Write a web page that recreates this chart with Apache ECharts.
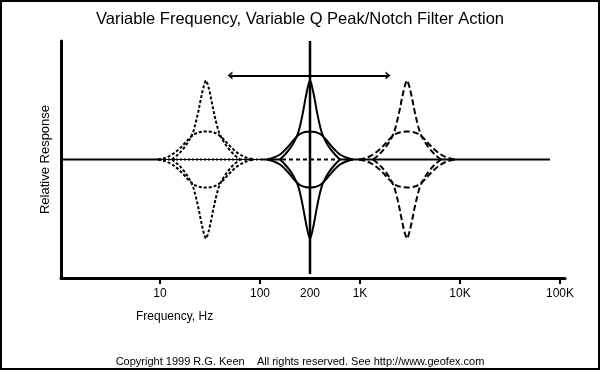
<!DOCTYPE html>
<html><head><meta charset="utf-8">
<script src="https://cdn.jsdelivr.net/npm/echarts@6/dist/echarts.min.js"></script>
<style>html,body{margin:0;padding:0;background:#fff}#c{width:600px;height:370px}</style>
</head><body><div id="c"></div>
<script>
const titleText = 'Variable Frequency, Variable Q Peak/Notch Filter Action';
const xAxisTitle = 'Frequency, Hz';
const yAxisTitle = 'Relative Response';
const footerText = 'Copyright 1999 R.G. Keen    All rights reserved. See http://www.geofex.com';

// x positions: decades above 1 Hz, as drawn on the original
const tickPositions = [1, 2, 3, 4, 5];
const labelPositions = [1, 2, 2.5, 3, 4, 5];
const tickLabels = ['10', '100', '200', '1K', '10K', '100K'];

// relative response of the curves (1 = full peak)
const narrowPeak  = [0, 0.063, 0.14, 0.22, 0.33, 0.45, 0.6, 0.74, 0.87, 0.95, 1.0, 0.95, 0.87, 0.74, 0.6, 0.45, 0.33, 0.22, 0.14, 0.063, 0];
const narrowNotch = [0, -0.063, -0.14, -0.22, -0.33, -0.45, -0.6, -0.74, -0.87, -0.95, -1.0, -0.95, -0.87, -0.74, -0.6, -0.45, -0.33, -0.22, -0.14, -0.063, 0];
const widePeak    = [0, 0.025, 0.063, 0.12, 0.19, 0.266, 0.323, 0.348, 0.354, 0.348, 0.323, 0.266, 0.19, 0.12, 0.063, 0.025, 0];
const wideNotch   = [0, -0.025, -0.063, -0.12, -0.19, -0.266, -0.323, -0.348, -0.354, -0.348, -0.323, -0.266, -0.19, -0.12, -0.063, -0.025, 0];

// x positions of the curve points for each filter setting
const leftNarrowX   = [1.12, 1.18, 1.236, 1.28, 1.326, 1.354, 1.382, 1.404, 1.426, 1.443, 1.46, 1.477, 1.494, 1.516, 1.538, 1.566, 1.594, 1.64, 1.684, 1.74, 1.80];
const leftWideX     = [0.98, 1.06, 1.12, 1.18, 1.236, 1.292, 1.348, 1.404, 1.46, 1.516, 1.572, 1.628, 1.684, 1.74, 1.80, 1.86, 1.94];
const centerNarrowX = [2.20, 2.25, 2.30, 2.34, 2.38, 2.405, 2.43, 2.45, 2.47, 2.485, 2.50, 2.515, 2.53, 2.55, 2.57, 2.595, 2.62, 2.66, 2.70, 2.75, 2.80];
const centerWideX   = [2.07, 2.14, 2.20, 2.25, 2.30, 2.35, 2.40, 2.45, 2.50, 2.55, 2.60, 2.65, 2.70, 2.75, 2.80, 2.86, 2.93];
const rightNarrowX  = [3.13, 3.19, 3.246, 3.29, 3.336, 3.364, 3.392, 3.414, 3.436, 3.453, 3.47, 3.487, 3.504, 3.526, 3.548, 3.576, 3.604, 3.65, 3.694, 3.75, 3.81];
const rightWideX    = [2.99, 3.07, 3.13, 3.19, 3.246, 3.302, 3.358, 3.414, 3.47, 3.526, 3.582, 3.638, 3.694, 3.75, 3.81, 3.87, 3.95];

// reference lines
const baselineBreaks = [0.01, 1.0, 2.02, 2.22, 2.78, 4.9];
const centerLineX = 2.5;
const centerLineY = [1.5, -1.45];
const arrowX = [1.70, 3.28];
const arrowY = 1.063;

function zip(xs, ys) { return xs.map((x, i) => [x, ys[i]]); }

const styles = {
  left:   { color: '#000', width: 2, type: [3, 2] },
  center: { color: '#000', width: 2, type: 'solid' },
  right:  { color: '#000', width: 2, type: [6, 3] }
};

function curve(xs, ys, style) {
  return { type: 'line', data: zip(xs, ys), smooth: 0.35, showSymbol: false, symbol: 'none',
           lineStyle: style, silent: true, z: 3 };
}
function seg(x0, x1, style, z) {
  return { type: 'line', data: [[x0, 0], [x1, 0]], showSymbol: false, symbol: 'none',
           lineStyle: style, silent: true, z: z || 2 };
}

const chev = 'path://M0,10 L5,0 L10,10 L7.5,10 L5,5 L2.5,10 Z';

const series = [
  seg(baselineBreaks[0], baselineBreaks[1], { color: '#000', width: 2 }),
  seg(baselineBreaks[1], baselineBreaks[2], { color: '#000', width: 1 }),
  seg(baselineBreaks[1], baselineBreaks[2], { color: '#000', width: 2, type: [2, 2] }),
  seg(baselineBreaks[2], baselineBreaks[3], { color: '#000', width: 2 }),
  seg(baselineBreaks[3], baselineBreaks[4], { color: '#000', width: 2, type: [4, 3] }),
  seg(baselineBreaks[4], baselineBreaks[5], { color: '#000', width: 2 }),
  curve(leftNarrowX, narrowPeak, styles.left),
  curve(leftNarrowX, narrowNotch, styles.left),
  curve(leftWideX, widePeak, styles.left),
  curve(leftWideX, wideNotch, styles.left),
  curve(centerNarrowX, narrowPeak, styles.center),
  curve(centerNarrowX, narrowNotch, styles.center),
  curve(centerWideX, widePeak, styles.center),
  curve(centerWideX, wideNotch, styles.center),
  curve(rightNarrowX, narrowPeak, styles.right),
  curve(rightNarrowX, narrowNotch, styles.right),
  curve(rightWideX, widePeak, styles.right),
  curve(rightWideX, wideNotch, styles.right),
  { type: 'line', data: [[centerLineX, centerLineY[0]], [centerLineX, centerLineY[1]]],
    showSymbol: false, symbol: 'none', lineStyle: { color: '#000', width: 2.5 }, silent: true, z: 4 },
  { type: 'line', data: [], silent: true,
    markLine: { silent: true, symbol: [chev, chev], symbolSize: [8, 5], label: { show: false },
      lineStyle: { color: '#000', width: 2, type: 'solid' }, emphasis: { disabled: true },
      data: [[{ coord: [arrowX[0], arrowY] }, { coord: [arrowX[1], arrowY] }]] } }
];

const font = 'Liberation Sans, Arial, sans-serif';
const chart = echarts.init(document.getElementById('c'), null, { renderer: 'canvas' });
chart.setOption({
  animation: false,
  backgroundColor: '#fff',
  textStyle: { fontFamily: font },
  title: [
    { text: titleText, left: 'center', top: 6, textStyle: { fontSize: 16.5, fontWeight: 'normal', color: '#000', fontFamily: font } },
    { text: xAxisTitle, left: 131, top: 306, textStyle: { fontSize: 12, fontWeight: 'normal', color: '#000', fontFamily: font } },
    { text: footerText, left: 'center', top: 351, textStyle: { fontSize: 11, fontWeight: 'normal', color: '#000', fontFamily: font, whiteSpace: 'pre' } }
  ],
  grid: { left: 61, top: 41, width: 504, height: 237, containLabel: false },
  xAxis: {
    type: 'value', min: 0.01, max: 5.05,
    axisLine: { show: true, onZero: false, lineStyle: { color: '#000', width: 3 } },
    axisTick: { show: true, customValues: tickPositions, length: 6, lineStyle: { color: '#000', width: 2 } },
    axisLabel: { show: true, customValues: labelPositions, margin: 10, color: '#000', fontSize: 12, fontFamily: font,
      formatter: v => { const i = labelPositions.findIndex(p => Math.abs(p - v) < 1e-6); return i >= 0 ? tickLabels[i] : ''; } },
    splitLine: { show: false }
  },
  yAxis: {
    type: 'value', min: -1.5, max: 1.5,
    axisLine: { show: true, onZero: false, lineStyle: { color: '#000', width: 3 } },
    axisTick: { show: false }, axisLabel: { show: false }, splitLine: { show: false },
    name: yAxisTitle, nameLocation: 'middle', nameRotate: 90, nameGap: 9,
    nameTextStyle: { fontSize: 13, color: '#000', fontFamily: font }
  },
  graphic: [
    { type: 'rect', shape: { x: 1, y: 1, width: 598, height: 368 }, style: { fill: 'none', stroke: '#000', lineWidth: 2 }, silent: true, z: 100 }
  ],
  series: series
});
</script>
</body></html>
